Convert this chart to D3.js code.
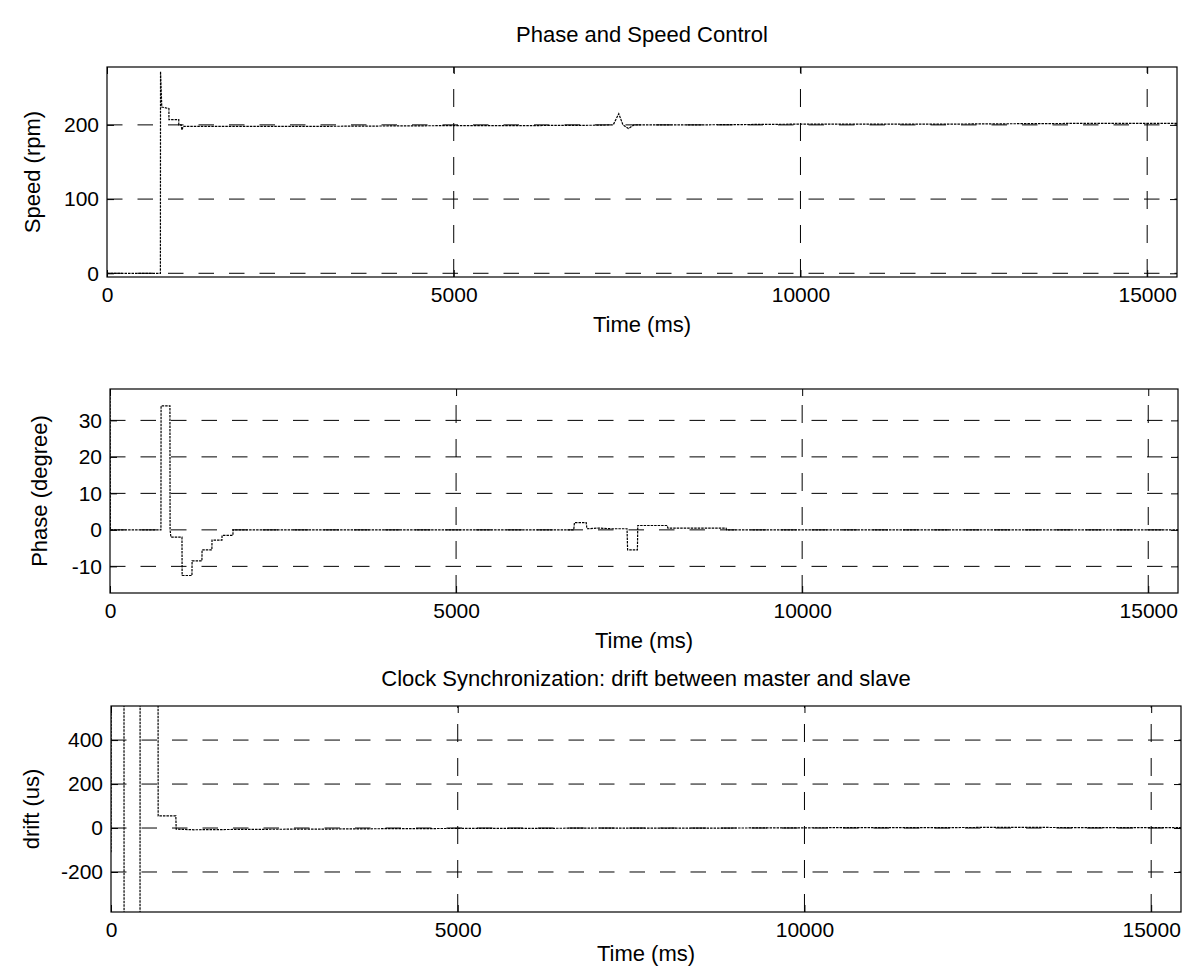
<!DOCTYPE html>
<html>
<head>
<meta charset="utf-8">
<script src="https://cdn.jsdelivr.net/npm/d3@7"></script>
<style>
  body { margin: 0; background: #fff; }
  svg text { font-family: "Liberation Sans", Arial, Helvetica, sans-serif; fill: #000; }
</style>
</head>
<body>
<svg id="chart" width="1188" height="968"></svg>
<script>
// Motor speed (rpm) against time (ms)
const speedTime  = [0, 770, 772, 790, 893, 893, 1035, 1035, 1070, 1080, 1100, 2000, 3000, 4000, 5000, 6000, 7000, 7300, 7380, 7440, 7520, 7600, 8500, 10000, 12000, 14000, 15430];
const speedValue = [0, 0,   272, 224, 222, 207, 207,  200,  200,  193,  198,  198,  198,  198.5, 199, 199,  199.5, 200, 215,  200,  195,  200,  200,  201,   201,   202,   202];

// Phase error (degree) against time (ms)
const phaseTime  = [0,  5, 736, 738, 866, 868, 880, 1040, 1042, 1184, 1186, 1328, 1330, 1472, 1474, 1617, 1619, 1776, 1778, 6700, 6710, 6880, 6890, 7070, 7250, 7470, 7478, 7620, 7625, 8050, 8060, 8900, 8910, 15430];
const phaseValue = [45, 0, 0,   34,  34,  0,   -2,  -2,   -12.5, -12.5, -8.5, -8.5, -5.5, -5.5, -2.8, -2.8, -1.5, -1.5, 0,    0,    2,    2,    0.3,  0.5,  0.3,  0.3,  -5.5, -5.5, 1.2,  1.2,  0.5,  0.5,  0,    0];

// Clock drift between master and slave (us) against time (ms)
const driftTime  = [0,    3,    187,  189,   418,   420,  678,  680, 935, 940, 1200, 2000, 3000, 4000, 5000, 6000, 7000, 8000, 9000, 10000, 11000, 12000, 13000, 14000, 15430];
const driftValue = [-110, 1000, 1000, -1000, -1000, 1000, 1000, 55,  55,  -5,  -8,   -6,   -5,   -3,   -2,   -2,   0,    -1,   0,    1,     2,     2,     3,     2,     2];

// Axis ticks and ranges
const timeTicks  = [0, 5000, 10000, 15000];
const timeMax    = 15430;
const speedTicks = [0, 100, 200];
const phaseTicks = [-10, 0, 10, 20, 30];
const driftTicks = [-200, 0, 200, 400];
const speedRange = [-5, 278];
const phaseRange = [-17.3, 38.6];
const driftRange = [-382, 555];

const svg = d3.select("#chart");
const TICK_FS = 21;
const LABEL_FS = 22;
const plain = d => String(d);   // keeps the ASCII hyphen for negative ticks

const panels = [
  { id: "speed", box: { l: 107, t: 67,  r: 1177, b: 277 }, time: speedTime, value: speedValue,
    yDomain: speedRange, yTicks: speedTicks, yLabel: "Speed (rpm)", yLabelX: 40,
    xLabelY: 332, title: "Phase and Speed Control", titleY: 42 },
  { id: "phase", box: { l: 110, t: 389, r: 1178, b: 593 }, time: phaseTime, value: phaseValue,
    yDomain: phaseRange, yTicks: phaseTicks, yLabel: "Phase (degree)", yLabelX: 47,
    xLabelY: 648, title: null },
  { id: "drift", box: { l: 111, t: 706, r: 1181, b: 912 }, time: driftTime, value: driftValue,
    yDomain: driftRange, yTicks: driftTicks, yLabel: "drift (us)", yLabelX: 39,
    xLabelY: 961, title: "Clock Synchronization: drift between master and slave", titleY: 686 }
];

const defs = svg.append("defs");

panels.forEach(p => {
  const { l, t, r, b } = p.box;
  const x = d3.scaleLinear().domain([0, timeMax]).range([l, r]);
  const y = d3.scaleLinear().domain(p.yDomain).range([b, t]);
  const g = svg.append("g").attr("class", "panel-" + p.id);

  defs.append("clipPath").attr("id", "clip-" + p.id)
    .append("rect").attr("x", l).attr("y", t).attr("width", r - l).attr("height", b - t);

  // dashed grid
  g.append("g").selectAll("line").data(p.yTicks).join("line")
    .attr("x1", l).attr("x2", r)
    .attr("y1", d => y(d)).attr("y2", d => y(d))
    .attr("stroke", "#000").attr("stroke-width", 1)
    .attr("stroke-dasharray", "15.5,15");
  g.append("g").selectAll("line").data(timeTicks.filter(d => d > 0)).join("line")
    .attr("x1", d => x(d)).attr("x2", d => x(d))
    .attr("y1", b).attr("y2", t)
    .attr("stroke", "#000").attr("stroke-width", 1)
    .attr("stroke-dasharray", "18,16");

  // signal trace
  const line = d3.line().x(i => x(p.time[i])).y(i => y(p.value[i]));
  g.append("path")
    .attr("clip-path", "url(#clip-" + p.id + ")")
    .attr("d", line(d3.range(p.time.length)))
    .attr("fill", "none").attr("stroke", "#000").attr("stroke-width", 1.2)
    .attr("stroke-dasharray", "2.5,1");

  // frame
  g.append("rect").attr("x", l).attr("y", t).attr("width", r - l).attr("height", b - t)
    .attr("fill", "none").attr("stroke", "#000").attr("stroke-width", 1.2);

  // axes with inward ticks
  const styleAxis = sel => {
    sel.select(".domain").remove();
    sel.attr("font-family", null).attr("font-size", null);
    sel.selectAll("text").style("font-size", TICK_FS + "px");
    sel.selectAll("line").attr("stroke", "#000");
  };
  g.append("g").attr("transform", `translate(0,${b})`)
    .call(d3.axisBottom(x).tickValues(timeTicks).tickFormat(plain).tickSizeInner(-7).tickSizeOuter(0).tickPadding(10))
    .call(styleAxis);
  g.append("g").attr("transform", `translate(0,${t})`)
    .call(d3.axisTop(x).tickValues(timeTicks).tickFormat("").tickSizeInner(-7).tickSizeOuter(0))
    .call(styleAxis);
  g.append("g").attr("transform", `translate(${l},0)`)
    .call(d3.axisLeft(y).tickValues(p.yTicks).tickFormat(plain).tickSizeInner(-7).tickSizeOuter(0).tickPadding(8))
    .call(styleAxis);
  g.append("g").attr("transform", `translate(${r},0)`)
    .call(d3.axisRight(y).tickValues(p.yTicks).tickFormat("").tickSizeInner(-7).tickSizeOuter(0))
    .call(styleAxis);

  // labels
  g.append("text").attr("x", (l + r) / 2).attr("y", p.xLabelY)
    .attr("text-anchor", "middle").style("font-size", LABEL_FS + "px").text("Time (ms)");
  g.append("text")
    .attr("transform", `translate(${p.yLabelX},${(t + b) / 2}) rotate(-90)`)
    .attr("text-anchor", "middle").style("font-size", LABEL_FS + "px").text(p.yLabel);
  if (p.title) {
    g.append("text").attr("x", (l + r) / 2).attr("y", p.titleY)
      .attr("text-anchor", "middle").style("font-size", LABEL_FS + "px").text(p.title);
  }
});
</script>
</body>
</html>
